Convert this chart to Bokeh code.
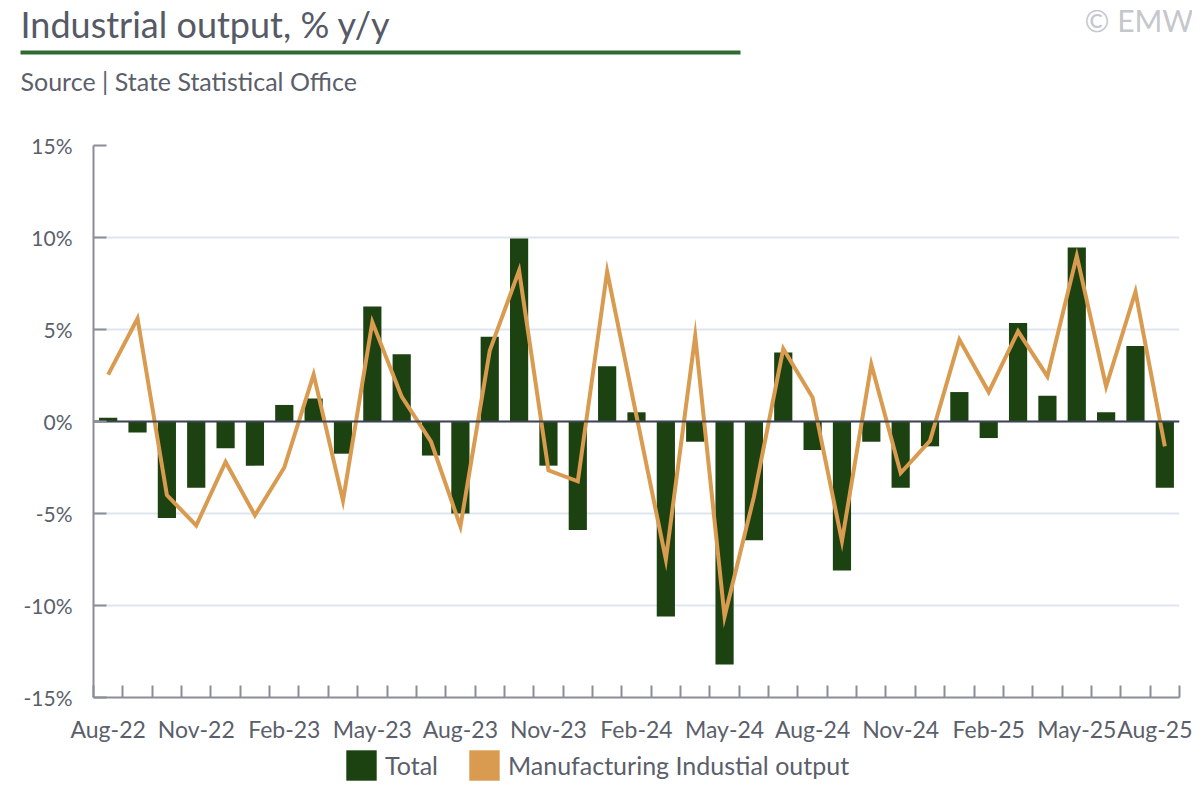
import numpy as np
from bokeh.plotting import figure
from bokeh.layouts import column
from bokeh.models import (Range1d, FixedTicker, Span, Legend, LegendItem,
                          CustomJSTickFormatter, PrintfTickFormatter)
from bokeh.core.properties import value
from bokeh.embed import file_html
from bokeh.resources import INLINE

months = ["Aug-22", "Sep-22", "Oct-22", "Nov-22", "Dec-22", "Jan-23", "Feb-23", "Mar-23",
          "Apr-23", "May-23", "Jun-23", "Jul-23", "Aug-23", "Sep-23", "Oct-23", "Nov-23",
          "Dec-23", "Jan-24", "Feb-24", "Mar-24", "Apr-24", "May-24", "Jun-24", "Jul-24",
          "Aug-24", "Sep-24", "Oct-24", "Nov-24", "Dec-24", "Jan-25", "Feb-25", "Mar-25",
          "Apr-25", "May-25", "Jun-25", "Jul-25", "Aug-25"]

total = [0.2, -0.6, -5.25, -3.6, -1.45, -2.4, 0.9, 1.25, -1.75, 6.25, 3.65, -1.85, -5.0,
         4.6, 9.95, -2.4, -5.9, 3.0, 0.5, -10.6, -1.1, -13.2, -6.45, 3.75, -1.55, -8.1,
         -1.1, -3.6, -1.35, 1.6, -0.9, 5.35, 1.4, 9.45, 0.5, 4.1, -3.6]

manufacturing = [2.55, 5.6, -4.0, -5.65, -2.2, -5.1, -2.5, 2.55, -4.3, 5.4, 1.35, -1.1, -5.7,
                 3.85, 8.2, -2.65, -3.25, 8.15, 0.3, -7.5, 4.65, -10.6, -4.1, 3.95, 1.3, -6.5,
                 3.1, -2.8, -1.05, 4.45, 1.6, 4.9, 2.45, 9.0, 1.9, 7.05, -1.35]

series_names = ["Total", "Manufacturing Industial output"]
y_ticks = [-15, -10, -5, 0, 5, 10, 15]
label_step = 3

title_text = "Industrial output, % y/y"
source_text = "Source | State Statistical Office"
credit_text = "© EMW"

FONT = "Lato"
TEXT = "#5b5f6b"
GREEN = "#1c4211"
ORANGE = "#d99b4f"
AXIS = "#8a8e99"
W = 1192

# ---------- header ----------
HH = 110
hdr = figure(width=W, height=HH, x_range=Range1d(0, W), y_range=Range1d(HH, 0),
             output_backend="svg", toolbar_location=None, min_border=0,
             x_axis_location=None, y_axis_location=None, frame_align=False)
hdr.grid.visible = False
hdr.outline_line_color = None
hdr.text(x=[20], y=[23], text=[title_text], text_font=value(FONT), text_font_size=value("36px"),
         text_color="#555a66", text_baseline="alphabetic")
hdr.quad(left=[20], right=[740], top=[50], bottom=[54], fill_color="#2f6a32", line_color=None)
hdr.text(x=[20], y=[80], text=[source_text], text_font=value(FONT), text_font_size=value("25px"),
         text_color=TEXT, text_baseline="alphabetic")
hdr.text(x=[1084], y=[19], text=[credit_text], text_font=value(FONT), text_font_size=value("30px"),
         text_color="#c5c7cc", text_baseline="alphabetic")

# ---------- main chart ----------
MH = 635
n = len(months)
x = np.arange(n) + 0.5

p = figure(width=W, height=MH, output_backend="svg", toolbar_location=None,
           x_range=Range1d(0, n), y_range=Range1d(-15, 15),
           min_border_left=93, min_border_right=13, min_border_top=35, min_border_bottom=48,
           frame_align=False)
p.outline_line_color = None

bars = p.vbar(x=x, top=total, bottom=0, width=0.62, fill_color=GREEN, line_color=None)
p.add_layout(Span(location=0, dimension="width", line_color="#3f4452", line_width=2, level="glyph"))
line = p.line(x, manufacturing, line_color=ORANGE, line_width=4, line_join="miter")

xa = p.xaxis[0]
xa.ticker = FixedTicker(ticks=list(x[::label_step]), minor_ticks=list(range(0, n + 1)))
xa.formatter = CustomJSTickFormatter(args=dict(labels=months),
                                     code="return labels[Math.round(tick - 0.5)];")
xa.major_tick_in = 0
xa.major_tick_out = 0
xa.minor_tick_in = 12
xa.minor_tick_out = 0
xa.minor_tick_line_color = AXIS
xa.minor_tick_line_width = 2
xa.axis_line_color = AXIS
xa.axis_line_width = 2
xa.major_label_text_font = FONT
xa.major_label_text_font_size = "23px"
xa.major_label_text_color = TEXT
xa.major_label_standoff = 17

ya = p.yaxis[0]
ya.ticker = FixedTicker(ticks=y_ticks)
ya.formatter = PrintfTickFormatter(format="%d%%")
ya.major_tick_in = 13
ya.major_tick_out = 0
ya.major_tick_line_color = AXIS
ya.major_tick_line_width = 2
ya.minor_tick_line_color = None
ya.axis_line_color = AXIS
ya.axis_line_width = 2
ya.major_label_text_font = FONT
ya.major_label_text_font_size = "21px"
ya.major_label_text_color = TEXT
ya.major_label_standoff = 21

p.xgrid.grid_line_color = None
p.ygrid.grid_line_color = "#dfe5ee"
p.ygrid.grid_line_width = 2

# ---------- footer with legend ----------
FH = 784 - HH - MH
ftr = figure(width=W, height=FH, x_range=Range1d(0, 1), y_range=Range1d(0, 1),
             output_backend="svg", toolbar_location=None, min_border=0,
             x_axis_location=None, y_axis_location=None, frame_align=False)
ftr.grid.visible = False
ftr.outline_line_color = None
# swatch renderers kept outside the visible range; only their legend glyphs show
sw_total = ftr.vbar(x=[5], top=[1], bottom=[0], width=1, fill_color=GREEN, line_color=None)
sw_manu = ftr.quad(left=[5], right=[6], top=[1], bottom=[0], fill_color=ORANGE, line_color=None)
legend = Legend(items=[LegendItem(label=series_names[0], renderers=[sw_total]),
                       LegendItem(label=series_names[1], renderers=[sw_manu])],
                orientation="horizontal", location=(342, 0),
                glyph_width=38, glyph_height=38, label_standoff=5, spacing=27,
                padding=0, margin=0, border_line_color=None, background_fill_alpha=0,
                label_text_font=FONT, label_text_font_size="25px", label_text_color=TEXT)
ftr.add_layout(legend)

layout = column(hdr, p, ftr, spacing=0)
open("out.html", "w").write(file_html(layout, INLINE))
